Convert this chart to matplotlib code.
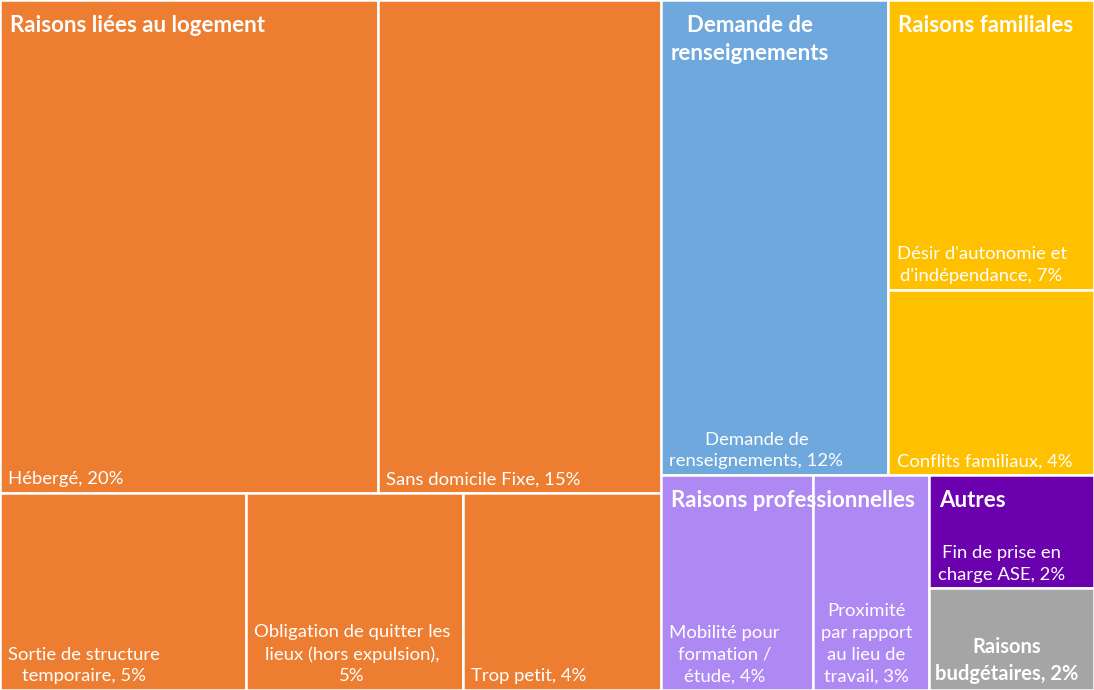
import matplotlib
matplotlib.use("Agg")
import matplotlib.pyplot as plt
from matplotlib.patches import Rectangle

# groupes (niveau 1 du treemap)
group_names = ["Raisons liées au logement", "Demande de\nrenseignements", "Raisons familiales",
               "Raisons professionnelles", "Autres", ""]
group_colors = ["#ED7D31", "#6FA8DC", "#FFC000", "#AE89F3", "#6A00AE", "#A5A5A5"]

# feuilles (niveau 2) -- libellés affichés, % affichés et poids estimés d'après les surfaces
leaf_labels = [
    "Hébergé, {}%",
    "Sans domicile Fixe, {}%",
    "Sortie de structure\ntemporaire, {}%",
    "Obligation de quitter les\nlieux (hors expulsion),\n{}%",
    "Trop petit, {}%",
    "Demande de\nrenseignements, {}%",
    "Désir d'autonomie et\nd'indépendance, {}%",
    "Conflits familiaux, {}%",
    "Mobilité pour\nformation /\nétude, {}%",
    "Proximité\npar rapport\nau lieu de\ntravail, {}%",
    "Fin de prise en\ncharge ASE, {}%",
    "Raisons\nbudgétaires, {}%",
]
leaf_pct = [20, 15, 5, 5, 4, 12, 7, 4, 4, 3, 2, 2]
leaf_weights = [20.0, 15.0, 5.2, 4.6, 4.2, 11.6, 6.4, 4.1, 3.5, 2.7, 2.0, 1.8]
leaf_group = [0, 0, 0, 0, 0, 1, 2, 2, 3, 3, 4, 5]

# arrangement du treemap (comme Excel) : "h" = découpe en largeur, "v" = en hauteur
LAYOUT = ("h", [
    ("v", [("h", [0, 1]), ("h", [2, 3, 4])]),
    ("v", [
        ("h", [5, ("v", [6, 7])]),
        ("h", [("h", [8, 9]), ("v", [10, 11])]),
    ]),
])


def _weight(node):
    if isinstance(node, int):
        return leaf_weights[node]
    return sum(_weight(c) for c in node[1])


def _layout(node, x, y, w, h, out):
    if isinstance(node, int):
        out[node] = (x, y, w, h)
        return
    direction, children = node
    total = _weight(node)
    pos = 0.0
    for child in children:
        frac = _weight(child) / total
        if direction == "h":
            _layout(child, x + pos * w, y, frac * w, h, out)
        else:
            _layout(child, x, y + pos * h, w, frac * h, out)
        pos += frac


rects = {}
_layout(LAYOUT, 0, 0, 1, 1, rects)

plt.rcParams["font.family"] = ["Lato", "DejaVu Sans"]
fig = plt.figure(figsize=(10.94, 6.90), dpi=100)
ax = fig.add_axes([0, 0, 1, 1])
ax.set_xlim(0, 1)
ax.set_ylim(1, 0)
ax.axis("off")

for i, (x, y, w, h) in rects.items():
    ax.add_patch(Rectangle((x, y), w, h, facecolor=group_colors[leaf_group[i]],
                           edgecolor="white", linewidth=1.8))
    bold = leaf_group[i] == 5
    ax.annotate(leaf_labels[i].format(leaf_pct[i]), (x, y + h), xytext=(4 if bold else 6, 4),
                textcoords="offset points", ha="left", va="bottom", multialignment="center",
                color="white", fontsize=14.5 if bold else 13.3,
                fontweight="bold" if bold else "normal", linespacing=1.45)

# titres de groupe en haut à gauche de chaque groupe
for g, name in enumerate(group_names):
    if not name:
        continue
    members = [rects[i] for i in range(len(leaf_group)) if leaf_group[i] == g]
    gx = min(r[0] for r in members)
    gy = min(r[1] for r in members)
    ax.annotate(name, (gx, gy), xytext=(7, -11), textcoords="offset points",
                ha="left", va="top", multialignment="center", color="white",
                fontsize=16, fontweight="bold", linespacing=1.4)

fig.savefig("out.png", dpi=100)
